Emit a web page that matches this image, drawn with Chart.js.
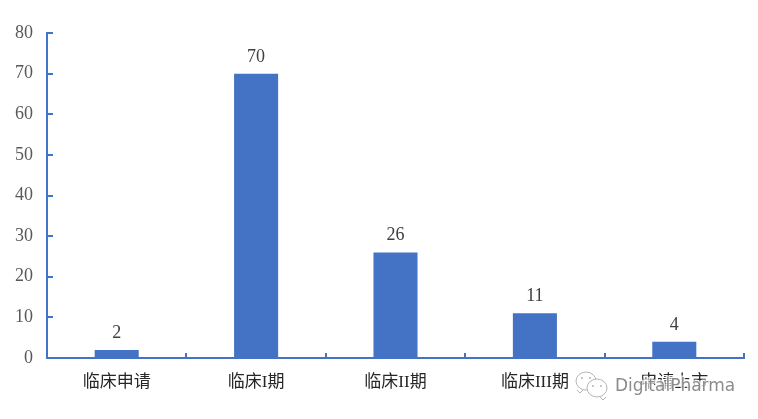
<!DOCTYPE html>
<html>
<head>
<meta charset="utf-8">
<style>
  html, body { margin: 0; padding: 0; background: #fff; }
  #chart { display: block; }
</style>
<script src="https://cdn.jsdelivr.net/npm/chart.js@4"></script>
</head>
<body>
<div style="width:758px;height:419px"><canvas id="chart"></canvas></div>
<script>
const categories = ["临床申请", "临床I期", "临床II期", "临床III期", "申请上市"];
const counts = [2, 70, 26, 11, 4];
const yTicks = [0, 10, 20, 30, 40, 50, 60, 70, 80];
const watermark = "DigitalPharma";

const BLUE = "#4472c4";
const FONT = "'Liberation Serif', 'Noto Sans CJK SC', serif";

// inward tick marks, chart.js only draws them outward
const innerTicks = {
  id: "innerTicks",
  afterDatasetsDraw(chart) {
    const { ctx, scales: { x, y } } = chart;
    ctx.save();
    ctx.strokeStyle = BLUE;
    ctx.lineWidth = 2;
    yTicks.forEach((v) => {
      const py = Math.round(y.getPixelForValue(v));
      ctx.beginPath();
      ctx.moveTo(x.left, py);
      ctx.lineTo(x.left + 6, py);
      ctx.stroke();
    });
    const step = x.width / categories.length;
    for (let i = 0; i <= categories.length; i++) {
      const px = Math.round(x.left + step * i);
      ctx.beginPath();
      ctx.moveTo(px, y.bottom);
      ctx.lineTo(px, y.bottom - 5);
      ctx.stroke();
    }
    ctx.restore();
  },
};

const barLabels = {
  id: "barLabels",
  afterDatasetsDraw(chart) {
    const { ctx } = chart;
    const bars = chart.getDatasetMeta(0).data;
    ctx.save();
    ctx.font = "18px " + FONT;
    ctx.fillStyle = "#404040";
    ctx.textAlign = "center";
    ctx.textBaseline = "alphabetic";
    bars.forEach((bar, i) => {
      ctx.fillText(String(counts[i]), bar.x, bar.y - 12);
    });
    ctx.restore();
  },
};

const bubble = (ctx, cx, cy, rx, ry, tailX, tailY) => {
  ctx.beginPath();
  ctx.ellipse(cx, cy, rx, ry, 0, 0, Math.PI * 2);
  ctx.fill();
  ctx.stroke();
  ctx.beginPath();
  ctx.moveTo(tailX - 3, tailY - 3);
  ctx.lineTo(tailX, tailY);
  ctx.lineTo(tailX + 3, tailY - 3);
  ctx.stroke();
};

const stamp = {
  id: "stamp",
  afterDraw(chart) {
    const { ctx } = chart;
    ctx.save();
    ctx.strokeStyle = "#b5b5b5";
    ctx.fillStyle = "#fff";
    ctx.lineWidth = 1;
    bubble(ctx, 586, 381, 10, 9, 580, 393);
    bubble(ctx, 597, 388, 10, 9, 603, 400);
    ctx.fillStyle = "#b5b5b5";
    [[582, 378], [590, 378], [593, 386], [601, 386]].forEach(([a, b]) => {
      ctx.beginPath();
      ctx.arc(a, b, 1, 0, Math.PI * 2);
      ctx.fill();
    });
    ctx.font = "17px 'DejaVu Sans', sans-serif";
    ctx.textBaseline = "alphabetic";
    ctx.lineWidth = 3;
    ctx.strokeStyle = "rgba(255,255,255,0.75)";
    ctx.strokeText(watermark, 615, 391);
    ctx.fillStyle = "#8c8c8c";
    ctx.fillText(watermark, 615, 391);
    ctx.restore();
  },
};

new Chart(document.getElementById("chart"), {
  type: "bar",
  data: {
    labels: categories,
    datasets: [
      {
        data: counts,
        backgroundColor: BLUE,
        barPercentage: 1,
        categoryPercentage: 0.316,
      },
    ],
  },
  options: {
    responsive: true,
    maintainAspectRatio: false,
    animation: false,
    layout: { padding: { top: 33, right: 14, left: 0, bottom: 0 } },
    plugins: { legend: { display: false }, tooltip: { enabled: false } },
    scales: {
      x: {
        afterFit: (s) => { s.height = 61; },
        grid: { display: false, drawTicks: false },
        border: { color: BLUE, width: 2 },
        ticks: {
          color: "#262626",
          font: { family: FONT, size: 17 },
          padding: 14,
          maxRotation: 0,
        },
      },
      y: {
        min: 0,
        max: 80,
        afterFit: (s) => { s.width = 47; },
        grid: { display: false, drawTicks: false },
        border: { color: BLUE, width: 2 },
        ticks: {
          stepSize: 10,
          color: "#595959",
          font: { family: FONT, size: 18 },
          padding: 14,
        },
      },
    },
  },
  plugins: [innerTicks, barLabels, stamp],
});
</script>
</body>
</html>
